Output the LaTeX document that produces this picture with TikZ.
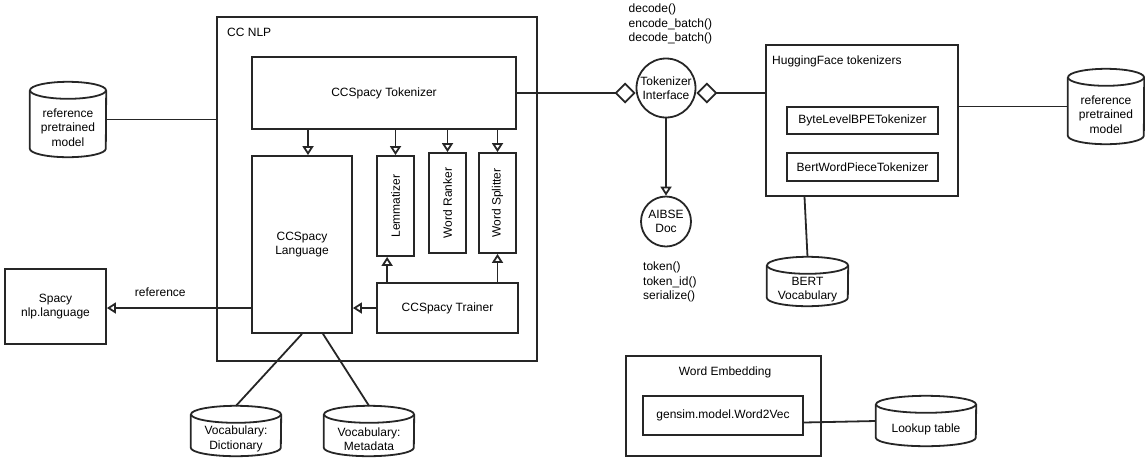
\documentclass[tikz,border=0pt]{standalone}
\usepackage{fontspec}
\setmainfont{Liberation Sans}
\usetikzlibrary{arrows.meta}

\tikzset{
  box/.style={draw=black!85, line width=1.8pt, inner sep=2pt, align=center},
  wire/.style={draw=black!85, line width=1.8pt},
  db/.style n args={2}{minimum width=#1pt, minimum height=#2pt, inner sep=0pt,
    append after command={\pgfextra{\let\dbnode\tikzlastnode
      \draw[wire] ([yshift=-8.5pt]\dbnode.north) ellipse[x radius=#1pt/2, y radius=8.5pt];
      \draw[wire] ([yshift=-8.5pt]\dbnode.north west) -- ([yshift=8.5pt]\dbnode.south west)
        arc[start angle=180, end angle=360, x radius=#1pt/2, y radius=8.5pt]
        -- ([yshift=-8.5pt]\dbnode.north east);}}},
  dbtext/.style={align=center, yshift=-8pt},
  tri/.style={wire, -{Triangle[open,length=9pt,width=11pt]}},
  agg/.style={wire, -{Diamond[open,length=21pt,width=21pt]}},
}

\begin{document}
\begin{tikzpicture}[x=1pt,y=-1pt,font=\fontsize{12}{14.5}\selectfont]
\useasboundingbox (0,0) rectangle (1145,464);

% CC NLP package
\node[box, minimum width=320pt, minimum height=344pt] (nlp) at (377,189) {};
\node[anchor=west, inner sep=0pt] (nlpname) at (227,32) {CC NLP};
\node[box, minimum width=264pt, minimum height=72pt] (tok) at (384,93) {CCSpacy Tokenizer};
\node[box, minimum width=100pt, minimum height=177pt] (lang) at (302,244.5) {CCSpacy\\Language};
\foreach \n/\x/\y/\t in {lem/395.5/206/Lemmatizer, rank/447.5/203/Word Ranker, split/497.5/203/Word Splitter} {
  \node[box, rotate=90, minimum width=100pt, minimum height=37pt] (\n) at (\x,\y) {\t};
  \draw[tri] (tok.south -| \n) -- (\n.east);
}
\node[box, minimum width=141pt, minimum height=50pt] (train) at (447.5,308) {CCSpacy Trainer};
\draw[tri] ([xshift=6pt]lang.north |- tok.south) -- ([xshift=6pt]lang.north);
\draw[tri] ([xshift=11pt]train.north west) -- ([xshift=11pt]train.north west |- lem.west);
\draw[tri] (train.north -| split) -- (split.west);
\draw[tri] (train.west) -- (train.west -| lang.east);

% outside the package
\node[box, minimum width=101pt, minimum height=75pt] (spacy) at (55.5,306.5) {Spacy\\nlp.language};
\draw[tri] (train.west -| lang.west) -- (train.west -| spacy.east) node[pos=0.63, above=7pt] (reflbl) {reference};
\node[db={76}{75}, label={[dbtext]center:reference\\pretrained\\model}] (refL) at (68,119.5) {};
\draw[wire] (refL.east) -- (refL.east -| nlp.west);
\node[db={90}{50}, label={[dbtext]center:Vocabulary:\\Dictionary}] (dict) at (236,431) {};
\node[db={90}{50}, label={[dbtext]center:Vocabulary:\\Metadata}] (meta) at (369,431) {};
\draw[wire] (lang.south) -- (dict.north);
\draw[wire] ([xshift=21pt]lang.south) -- (meta.north);

% interface
\node[box, circle, minimum size=59pt, inner sep=0pt, label={[align=center]center:Tokenizer\\Interface}] (ti) at (666,88) {};
\node[anchor=west, align=left, inner sep=0pt] (tiapi) at (628.5,24) {decode()\\encode\_batch()\\decode\_batch()};
\draw[agg] (tok.east) -- (tok.east -| ti.west);
\node[box, circle, minimum size=50pt, inner sep=0pt, label={[align=center]center:AIBSE\\Doc}] (doc) at (666,221.5) {};
\node[anchor=west, align=left, inner sep=0pt] (docapi) at (643,282) {token()\\token\_id()\\serialize()};
\draw[tri] (ti) -- (doc);

% HuggingFace
\node[box, minimum width=192pt, minimum height=151pt] (hf) at (862,120.5) {};
\node[anchor=west, inner sep=0pt] (hfname) at (772,61) {HuggingFace tokenizers};
\node[box, minimum width=151pt, minimum height=27pt] (bpe) at (862.5,120.5) {ByteLevelBPETokenizer};
\node[box, minimum width=151pt, minimum height=28pt] (wp) at (862.5,167) {BertWordPieceTokenizer};
\draw[agg] (tok.east -| hf.west) -- (tok.east -| ti.east);
\node[db={76}{75}, label={[dbtext]center:reference\\pretrained\\model}] (refR) at (1106,106.5) {};
\draw[wire] (refR.west -| hf.east) -- (refR.west);
\node[db={81}{49}, label={[dbtext]center:BERT\\Vocabulary}] (bert) at (807.5,281.5) {};
\draw[wire] ([xshift=-57.5pt]hf.south) -- (bert.north);

% word embedding
\node[box, minimum width=195pt, minimum height=100pt] (emb) at (723.5,406) {};
\node (embname) at (725,372) {Word Embedding};
\node[box, minimum width=160pt, minimum height=39pt] (w2v) at (723,415.5) {gensim.model.Word2Vec};
\node[db={100}{50}, label={[dbtext]center:Lookup table}] (lookup) at (926,421) {};
\draw[wire] ([yshift=-7pt]w2v.east) -- (lookup.west);
\end{tikzpicture}
\end{document}
